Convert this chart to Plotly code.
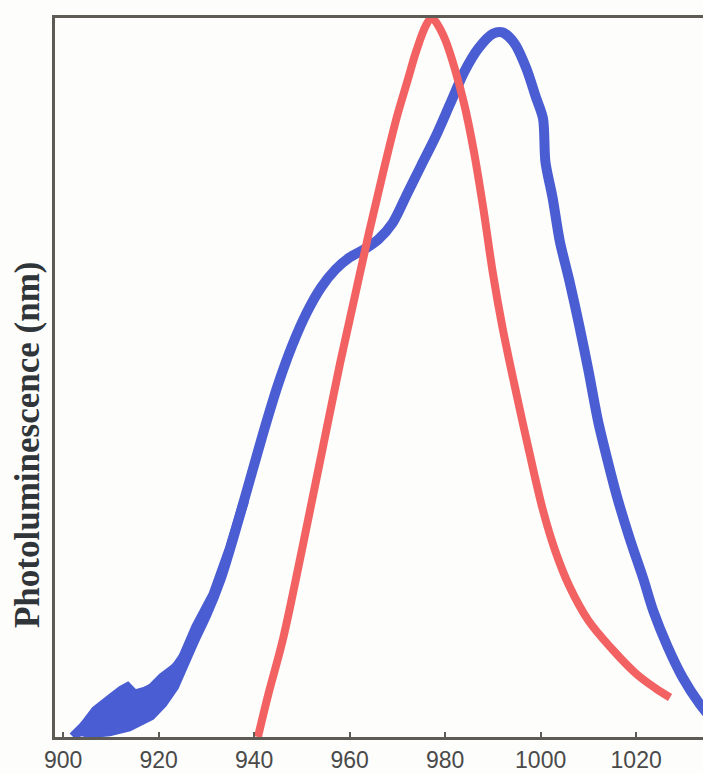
import plotly.graph_objects as go

# Red spectrum (wavelength nm, normalized intensity)
red_nm = [940.8, 943.0, 946.0, 950.0, 954.0, 958.0, 961.0, 964.0, 967.0, 970.0, 972.0,
          974.0, 976.0, 977.2, 978.5, 980.0, 982.0, 984.0, 986.0, 988.0, 990.0, 992.0,
          995.0, 997.5, 1000.5, 1003.0, 1006.0, 1010.0, 1015.0, 1020.0, 1024.0, 1027.1]
red_val = [0.0, 0.06, 0.135, 0.26, 0.39, 0.52, 0.61, 0.70, 0.785, 0.865, 0.91,
           0.955, 0.99, 1.0, 0.99, 0.97, 0.93, 0.88, 0.815, 0.735, 0.645, 0.57,
           0.475, 0.40, 0.315, 0.26, 0.21, 0.162, 0.122, 0.088, 0.068, 0.055]

# Blue spectrum
blue_nm = [902.1, 906.0, 910.0, 914.0, 918.0, 921.0, 924.0, 927.0, 930.0, 933.0, 936.0,
           939.0, 942.0, 945.0, 948.0, 951.0, 954.0, 957.0, 960.0, 963.0, 966.0, 969.0,
           972.0, 975.0, 978.0, 981.0, 984.0, 987.0, 990.0, 992.0, 994.5, 997.0, 999.0,
           1000.5, 1001.0, 1002.5, 1004.0, 1006.0, 1008.0, 1010.0, 1012.0, 1014.0,
           1016.0, 1018.7, 1021.5, 1023.6, 1026.5, 1029.8, 1033.4, 1036.5]
blue_val = [0.0, 0.025, 0.045, 0.057, 0.065, 0.078, 0.10, 0.13, 0.17, 0.22, 0.285,
            0.355, 0.425, 0.49, 0.545, 0.59, 0.625, 0.65, 0.667, 0.678, 0.692, 0.715,
            0.755, 0.795, 0.835, 0.88, 0.925, 0.958, 0.978, 0.98, 0.965, 0.93, 0.89,
            0.86, 0.80, 0.75, 0.69, 0.635, 0.575, 0.51, 0.44, 0.385,
            0.334, 0.275, 0.22, 0.175, 0.127, 0.082, 0.045, 0.02]

# Noisy envelope of the blue spectrum at short wavelengths
env_up_nm = [902.1, 906.3, 909.8, 911.9, 913.6, 915.5, 918.2, 920.3, 923.9, 927.2, 930.8, 934.3, 937.1]
env_up_val = [0.003, 0.040, 0.058, 0.069, 0.075, 0.062, 0.072, 0.086, 0.104, 0.155, 0.200, 0.265, 0.327]
env_lo_nm = [904.6, 909.8, 914.0, 918.8, 921.4, 923.9, 928.7, 932.9, 938.5]
env_lo_val = [0.0, 0.003, 0.010, 0.026, 0.044, 0.068, 0.141, 0.210, 0.325]

x_ticks = [900, 920, 940, 960, 980, 1000, 1020]

RED = "#f26262"
BLUE = "#4a5dd2"
AXC = "#5e5a54"

fig = go.Figure()
fig.add_trace(go.Scatter(
    x=env_up_nm + env_lo_nm[::-1], y=env_up_val + env_lo_val[::-1],
    fill="toself", fillcolor=BLUE, mode="lines",
    line=dict(color=BLUE, width=3), hoverinfo="skip", showlegend=False))
fig.add_trace(go.Scatter(
    x=blue_nm, y=blue_val, mode="lines",
    line=dict(color=BLUE, width=10, shape="spline", smoothing=0.8), showlegend=False))
fig.add_trace(go.Scatter(
    x=red_nm, y=red_val, mode="lines",
    line=dict(color=RED, width=8, shape="spline", smoothing=1.0), showlegend=False))

fig.update_layout(
    width=703, height=773,
    margin=dict(l=55, r=0, t=18, b=31),
    paper_bgcolor="#fdfdfb", plot_bgcolor="#fdfdfb",
    xaxis=dict(range=[898.3, 1034.0], tickvals=x_ticks, ticktext=[str(v) for v in x_ticks],
               showgrid=False, zeroline=False, showline=True, linecolor=AXC, linewidth=3,
               mirror=True, ticks="inside", ticklen=5, tickwidth=2, tickcolor=AXC,
               tickfont=dict(family="Liberation Sans, Arial", size=23, color="#4a4a4a")),
    yaxis=dict(range=[0, 1.0], showgrid=False, zeroline=False, showline=True,
               linecolor=AXC, linewidth=3, showticklabels=False, ticks=""),
    annotations=[dict(text="<b>Photoluminescence (nm)</b>", textangle=-90,
                      xref="paper", yref="paper", x=-55/648 + 27/648, y=(742-448)/724,
                      xanchor="center", yanchor="middle", showarrow=False,
                      font=dict(family="Liberation Serif, Times New Roman", size=35, color="#2f3538"))],
)
fig.write_html("out.html")
